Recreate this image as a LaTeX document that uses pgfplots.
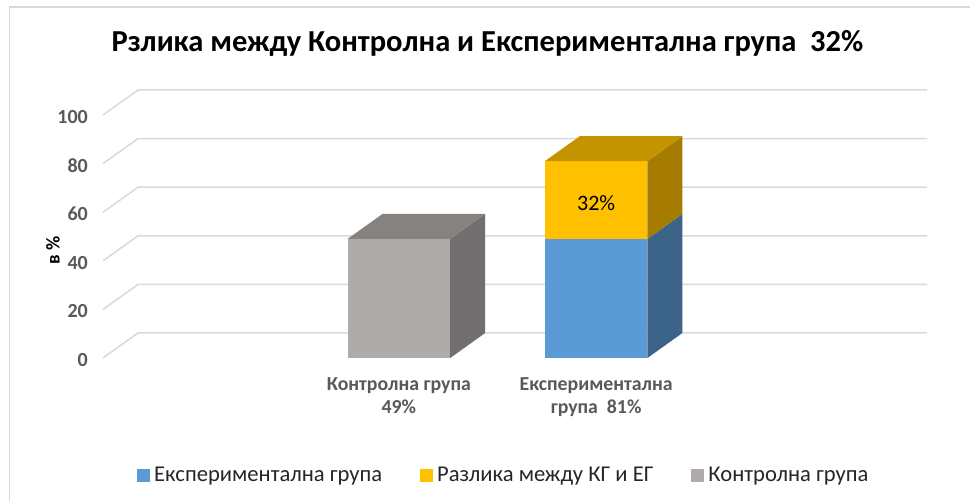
\documentclass[border=0pt]{standalone}
\usepackage{fontspec}
\setmainfont{Carlito}
\usepackage{pgfplots}
\pgfplotsset{compat=1.18}
\definecolor{gridc}{HTML}{D9D9D9}
\definecolor{framec}{HTML}{D9D9D9}
\definecolor{tickc}{HTML}{595959}
\definecolor{legc}{HTML}{262626}
\definecolor{gfront}{HTML}{AEABAA}
\definecolor{gtop}{HTML}{86827F}
\definecolor{gside}{HTML}{716F6F}
\definecolor{bfront}{HTML}{5B9BD5}
\definecolor{bside}{HTML}{3B6488}
\definecolor{yfront}{HTML}{FFC000}
\definecolor{ytop}{HTML}{C49300}
\definecolor{yside}{HTML}{A67C00}
\begin{document}
\begin{tikzpicture}
\useasboundingbox (0,0) rectangle (970bp,501bp);
\fill[white] (0,0) rectangle (970bp,501bp);
\draw[color=framec, line width=1.2bp] (9.5bp,0) -- (9.5bp,494bp) -- (970bp,494bp);
\node[font=\fontsize{30.5bp}{36bp}\selectfont\bfseries, anchor=base, inner sep=0pt] at (487.5bp,449bp) {Рзлика между Контролна и Експериментална група\ \ 32\%};
\node[rotate=90, font=\fontsize{19.5bp}{23bp}\selectfont\bfseries, text=black, inner sep=0pt] at (53bp,251bp) {в \%};
\begin{axis}[
  at={(103bp,143bp)}, anchor=south west,
  scale only axis, width=789bp, height=243bp,
  xmin=0, xmax=4, ymin=0, ymax=100,
  clip=false,
  axis line style={draw=none},
  major tick length=0pt,
  ytick={0,20,40,60,80,100},
  yticklabels={0,20,40,60,80,100},
  /pgf/number format/assume math mode=true,
  yticklabel style={font=\fontsize{20bp}{23bp}\selectfont\bfseries, text=tickc, anchor=east, inner sep=0pt, xshift=-15bp, yshift=-2bp},
  xtick={1.5,2.5},
  xticklabels={{Контролна група\\49\%},{Експериментална\\група\ \ 81\%}},
  xticklabel style={font=\fontsize{19.8bp}{23bp}\selectfont\bfseries, text=tickc, align=center, anchor=north, inner sep=0pt, yshift=-19bp},
  legend columns=3,
  legend style={at={(0.0431,-0.4815)}, anchor=west, draw=none, fill=none, inner sep=0pt,
    font=\fontsize{22.6bp}{26bp}\selectfont, text=legc,
    /tikz/every even column/.append style={column sep=34bp},
    nodes={inner sep=4bp}},
  legend cell align=left,
  legend image code/.code={\fill[#1] (0bp,-6.5bp) rectangle (13bp,6.5bp);},
]
% gridlines (front-left diagonal + back wall)
\addplot[gridc, line width=1.5bp, forget plot] coordinates {(0,0) (0.1775,10.29) (4.1775,10.29)};
\addplot[gridc, line width=1.5bp, forget plot] coordinates {(0,20) (0.1775,30.29) (4.1775,30.29)};
\addplot[gridc, line width=1.5bp, forget plot] coordinates {(0,40) (0.1775,50.29) (4.1775,50.29)};
\addplot[gridc, line width=1.5bp, forget plot] coordinates {(0,60) (0.1775,70.29) (4.1775,70.29)};
\addplot[gridc, line width=1.5bp, forget plot] coordinates {(0,80) (0.1775,90.29) (4.1775,90.29)};
\addplot[gridc, line width=1.5bp, forget plot] coordinates {(0,100) (0.1775,110.29) (4.1775,110.29)};
% Control group bar: 49
\addplot[fill=gfront, draw=none, forget plot] coordinates {(1.24,0) (1.76,0) (1.76,49) (1.24,49)} -- cycle;
\addplot[fill=gside, draw=none, forget plot] coordinates {(1.76,0) (1.9375,10.29) (1.9375,59.29) (1.76,49)} -- cycle;
\addplot[fill=gtop, draw=none, forget plot] coordinates {(1.24,49) (1.4175,59.29) (1.9375,59.29) (1.76,49)} -- cycle;
% Experimental group: 49 (blue) + 32 (yellow) = 81
\addplot[fill=bfront, draw=none, forget plot] coordinates {(2.24,0) (2.76,0) (2.76,49) (2.24,49)} -- cycle;
\addplot[fill=bside, draw=none, forget plot] coordinates {(2.76,0) (2.9375,10.29) (2.9375,59.29) (2.76,49)} -- cycle;
\addplot[fill=yfront, draw=none, forget plot] coordinates {(2.24,49) (2.76,49) (2.76,81) (2.24,81)} -- cycle;
\addplot[fill=yside, draw=none, forget plot] coordinates {(2.76,49) (2.9375,59.29) (2.9375,91.29) (2.76,81)} -- cycle;
\addplot[fill=ytop, draw=none, forget plot] coordinates {(2.24,81) (2.4175,91.29) (2.9375,91.29) (2.76,81)} -- cycle;
\node[font=\fontsize{22bp}{26bp}\selectfont, text=black] at (axis cs:2.5,63.8) {32\%};
\addlegendimage{fill=bfront, draw=none}
\addlegendentry{Експериментална група}
\addlegendimage{fill=yfront, draw=none}
\addlegendentry{Разлика между КГ и ЕГ}
\addlegendimage{fill=gfront, draw=none}
\addlegendentry{Контролна група}
\end{axis}
\end{tikzpicture}
\end{document}
